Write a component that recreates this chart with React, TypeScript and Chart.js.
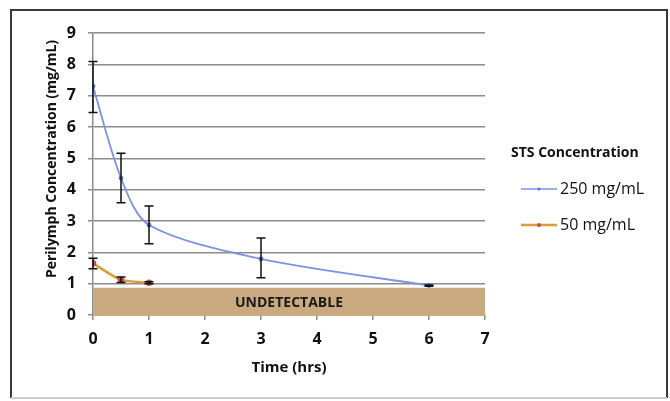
import React, { useEffect, useRef } from "react";
import { Chart, registerables } from "chart.js";

Chart.register(...registerables);

const TIMES_250 = [0, 0.5, 1, 3, 6];
const MEAN_250 = [7.3, 4.37, 2.87, 1.79, 0.94];
const LOW_250 = [6.46, 3.58, 2.27, 1.19, 0.92];
const HIGH_250 = [8.09, 5.16, 3.48, 2.46, 0.96];

const TIMES_50 = [0, 0.5, 1];
const MEAN_50 = [1.65, 1.12, 1.03];
const LOW_50 = [1.48, 1.04, 1.0];
const HIGH_50 = [1.81, 1.21, 1.06];

const SERIES_LABELS = ["250 mg/mL", "50 mg/mL"];
const SERIES_COLORS = ["#7f93e4", "#dd9a3e"];
const MARKER_COLORS = ["#5a6fd0", "#c0504d"];
const LEGEND_TITLE = "STS Concentration";
const X_TITLE = "Time (hrs)";
const Y_TITLE = "Perilymph Concentration (mg/mL)";
const X_MIN = 0;
const X_MAX = 7;
const Y_MIN = 0;
const Y_MAX = 9;
const UNDETECTABLE_LIMIT = 0.87;
const UNDETECTABLE_LABEL = "UNDETECTABLE";

const FONT = "'Open Sans'";

const ERRORS = [
  { low: LOW_250, high: HIGH_250, x: TIMES_250 },
  { low: LOW_50, high: HIGH_50, x: TIMES_50 },
];

const bandPlugin = {
  id: "band",
  beforeDatasetsDraw(chart: any) {
    const { ctx, scales } = chart;
    const x = scales.x;
    const y = scales.y;
    const l = x.getPixelForValue(X_MIN);
    const r = x.getPixelForValue(X_MAX);
    const t = y.getPixelForValue(UNDETECTABLE_LIMIT);
    const b = y.getPixelForValue(0) + 1;
    ctx.save();
    ctx.fillStyle = "#c9aa80";
    ctx.fillRect(l, t, r - l, b - t);
    ctx.fillStyle = "#1a1a1a";
    ctx.font = `bold 14px ${FONT}`;
    ctx.textAlign = "center";
    ctx.textBaseline = "middle";
    ctx.fillText(UNDETECTABLE_LABEL, (l + r) / 2, (t + b) / 2 + 1);
    ctx.restore();
  },
};

const errorPlugin = {
  id: "errors",
  afterDatasetsDraw(chart: any) {
    const { ctx, scales } = chart;
    ctx.save();
    ctx.strokeStyle = "#111111";
    ctx.lineWidth = 1.5;
    ERRORS.forEach((e) => {
      e.x.forEach((xv, i) => {
        const px = scales.x.getPixelForValue(xv);
        const pl = scales.y.getPixelForValue(e.low[i]);
        const ph = scales.y.getPixelForValue(e.high[i]);
        ctx.beginPath();
        ctx.moveTo(px, pl);
        ctx.lineTo(px, ph);
        ctx.moveTo(px - 4.5, pl);
        ctx.lineTo(px + 4.5, pl);
        ctx.moveTo(px - 4.5, ph);
        ctx.lineTo(px + 4.5, ph);
        ctx.stroke();
      });
    });
    ctx.restore();
  },
};

const decorPlugin = {
  id: "decor",
  afterDraw(chart: any) {
    const { ctx } = chart;
    ctx.save();
    ctx.fillStyle = "#111111";
    ctx.font = `bold 14px ${FONT}`;
    ctx.textAlign = "center";
    ctx.textBaseline = "middle";
    ctx.translate(52, 159);
    ctx.rotate(-Math.PI / 2);
    ctx.fillText(Y_TITLE, 0, 0);
    ctx.restore();

    ctx.save();
    ctx.fillStyle = "#111111";
    ctx.font = `bold 14px ${FONT}`;
    ctx.textAlign = "left";
    ctx.textBaseline = "middle";
    ctx.fillText(LEGEND_TITLE, 511, 153);
    const ys = [189, 225];
    SERIES_LABELS.forEach((lab, i) => {
      const yy = ys[i];
      ctx.strokeStyle = SERIES_COLORS[i];
      ctx.lineWidth = i === 0 ? 1.5 : 2.5;
      ctx.beginPath();
      ctx.moveTo(521, yy);
      ctx.lineTo(557, yy);
      ctx.stroke();
      ctx.fillStyle = MARKER_COLORS[i];
      ctx.beginPath();
      ctx.arc(539, yy, i === 0 ? 1.5 : 2, 0, Math.PI * 2);
      ctx.fill();
      ctx.fillStyle = "#111111";
      ctx.font = `16px ${FONT}`;
      ctx.fillText(lab, 560, yy);
    });
    ctx.restore();

    ctx.save();
    ctx.lineWidth = 2;
    ctx.strokeStyle = "#3a3a3a";
    ctx.beginPath();
    ctx.moveTo(11, 398);
    ctx.lineTo(11, 10);
    ctx.lineTo(667, 10);
    ctx.lineTo(667, 398);
    ctx.stroke();
    ctx.strokeStyle = "#cccccc";
    ctx.beginPath();
    ctx.moveTo(11, 398);
    ctx.lineTo(667, 398);
    ctx.stroke();
    ctx.restore();
  },
};

export default function App() {
  const ref = useRef<HTMLCanvasElement | null>(null);
  useEffect(() => {
    if (!ref.current) return;
    const chart = new Chart(ref.current, {
      type: "line",
      data: {
        datasets: [
          {
            label: SERIES_LABELS[0],
            data: TIMES_250.map((t, i) => ({ x: t, y: MEAN_250[i] })),
            borderColor: SERIES_COLORS[0],
            backgroundColor: MARKER_COLORS[0],
            pointBackgroundColor: MARKER_COLORS[0],
            pointBorderColor: MARKER_COLORS[0],
            borderWidth: 1.8,
            pointRadius: 1.5,
            tension: 0.3,
          },
          {
            label: SERIES_LABELS[1],
            data: TIMES_50.map((t, i) => ({ x: t, y: MEAN_50[i] })),
            borderColor: SERIES_COLORS[1],
            backgroundColor: MARKER_COLORS[1],
            pointBackgroundColor: MARKER_COLORS[1],
            pointBorderColor: MARKER_COLORS[1],
            borderWidth: 2.5,
            pointRadius: 2,
            tension: 0.2,
          },
        ],
      },
      options: {
        responsive: false,
        animation: false,
        layout: { padding: { top: 33, right: 185, bottom: 0, left: 0 } },
        plugins: { legend: { display: false }, tooltip: { enabled: false } },
        scales: {
          x: {
            type: "linear",
            min: X_MIN,
            max: X_MAX,
            afterFit: (s: any) => {
              s.height = 86;
            },
            ticks: {
              stepSize: 1,
              padding: 10,
              color: "#111111",
              font: { family: FONT, size: 16, weight: "bold" },
            },
            grid: {
              drawOnChartArea: false,
              drawTicks: true,
              tickLength: 5,
              color: "#8c8c8c",
              lineWidth: 1.5,
            },
            border: { display: true, color: "#8c8c8c", width: 1.5 },
            title: {
              display: true,
              text: X_TITLE,
              color: "#111111",
              font: { family: FONT, size: 15, weight: "bold" },
              padding: { top: 0, bottom: 24 },
            },
          },
          y: {
            type: "linear",
            min: Y_MIN,
            max: Y_MAX,
            afterFit: (s: any) => {
              s.width = 93;
            },
            ticks: {
              stepSize: 1,
              padding: 12,
              color: "#111111",
              font: { family: FONT, size: 16, weight: "bold" },
            },
            grid: {
              drawTicks: true,
              tickLength: 5,
              color: "#8c8c8c",
              lineWidth: 1.5,
            },
            border: { display: true, color: "#8c8c8c", width: 1.5 },
          },
        },
      },
      plugins: [bandPlugin, errorPlugin, decorPlugin],
    } as any);
    return () => chart.destroy();
  }, []);
  return (
    <div style={{ position: "fixed", left: 0, top: 0, width: 670, height: 401, background: "#fff" }}>
      <canvas ref={ref} width={670} height={401} style={{ display: "block" }} />
    </div>
  );
}
